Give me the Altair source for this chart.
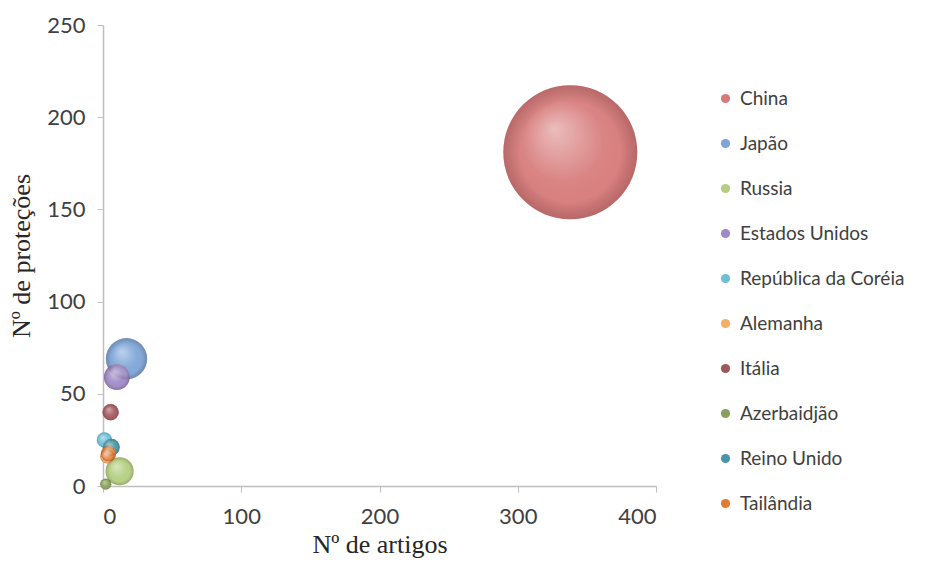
import altair as alt
import pandas as pd

countries = ["China", "Japão", "Russia", "Estados Unidos", "República da Coréia",
             "Alemanha", "Itália", "Azerbaidjão", "Reino Unido", "Tailândia"]
artigos = [338, 17, 12, 10, 1, 3, 5.5, 2, 6, 4]
protecoes = [181, 69, 8, 59, 25, 16, 40, 1, 21, 17.5]
tamanho = [100, 9.5, 4.4, 3.7, 1.3, 1.1, 1.5, 0.7, 1.6, 1.3]
colors = ["#D77A7A", "#7DA4D6", "#B3CE80", "#9D89C6", "#6CC1D8",
          "#F4AE6C", "#A0575A", "#889F5C", "#4796A8", "#E27A30"]

df = pd.DataFrame({
    "pais": countries,
    "artigos": artigos,
    "protecoes": protecoes,
    "tamanho": tamanho,
    "ordem": list(range(len(countries))),
})

x_enc = alt.X("artigos:Q", title="Nº de artigos",
              scale=alt.Scale(domain=[0, 400], nice=False),
              axis=alt.Axis(values=[0, 100, 200, 300, 400]))
y_enc = alt.Y("protecoes:Q", title="Nº de proteções",
              scale=alt.Scale(domain=[0, 250], nice=False),
              axis=alt.Axis(values=[0, 50, 100, 150, 200, 250]))
size_enc = alt.Size("tamanho:Q", legend=None,
                    scale=alt.Scale(type="linear", domain=[0, 100], range=[0, 17956]))

base = alt.Chart(df)

flat = base.mark_circle(opacity=1).encode(
    x=x_enc, y=y_enc, size=size_enc,
    color=alt.Color("pais:N", sort=countries,
                    scale=alt.Scale(domain=countries, range=colors),
                    legend=alt.Legend(title=None, orient="none", legendX=613, legendY=64,
                                      labelFont="Lato", labelFontSize=19, labelColor="#404040",
                                      symbolType="circle", symbolSize=85, symbolOpacity=1,
                                      symbolStrokeWidth=0, rowPadding=25, labelOffset=5,
                                      padding=0, labelLimit=300)),
    order=alt.Order("ordem:Q"),
)

highlight = base.mark_circle(
    opacity=1,
    color=alt.RadialGradient(
        gradient="radial", x1=0.38, y1=0.32, r1=0, x2=0.5, y2=0.5, r2=0.55,
        stops=[alt.GradientStop(offset=0, color="rgba(255,255,255,0.5)"),
               alt.GradientStop(offset=0.55, color="rgba(255,255,255,0.08)"),
               alt.GradientStop(offset=1, color="rgba(255,255,255,0)")]),
).encode(x=x_enc, y=y_enc, size=size_enc, order=alt.Order("ordem:Q"))

rim = base.mark_circle(
    opacity=1,
    color=alt.RadialGradient(
        gradient="radial", x1=0.5, y1=0.5, r1=0, x2=0.5, y2=0.5, r2=0.5,
        stops=[alt.GradientStop(offset=0, color="rgba(0,0,0,0)"),
               alt.GradientStop(offset=0.75, color="rgba(0,0,0,0)"),
               alt.GradientStop(offset=1, color="rgba(60,20,20,0.2)")]),
).encode(x=x_enc, y=y_enc, size=size_enc, order=alt.Order("ordem:Q"))

chart = alt.layer(flat, rim, highlight).properties(
    width=553, height=461,
    autosize=alt.AutoSizeParams(type="none"),
    padding={"left": 95, "top": 17, "right": 268, "bottom": 75},
).configure_view(stroke=None).configure_axis(
    grid=False,
    domainColor="#BFBFBF", domainWidth=1.5,
    tickColor="#BFBFBF", tickSize=6,
    labelFont="Lato", labelFontSize=22, labelColor="#404040",
    titleFont="Liberation Serif", titleFontSize=26, titleFontWeight="normal",
    titleColor="#262626",
).configure_axisX(labelPadding=14, titlePadding=4).configure_axisY(
    labelPadding=12, titlePadding=12
)

chart.save("out.html", embed_options={"renderer": "svg", "actions": False})
